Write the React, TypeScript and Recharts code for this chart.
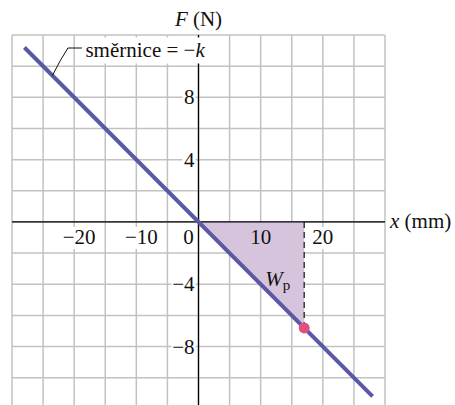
import React from 'react';
import {
  ComposedChart,
  Line,
  Area,
  XAxis,
  YAxis,
  CartesianGrid,
  ReferenceLine,
  ReferenceDot,
} from 'recharts';

// grid ticks (mm, N)
const xGrid = [-30, -25, -20, -15, -10, -5, 0, 5, 10, 15, 20, 25, 30];
const yGrid = [-10, -8, -6, -4, -2, 0, 2, 4, 6, 8, 10, 12];

// tick labels written along the axes
const xLabels = [-20, -10, 0, 10, 20];
const yLabels = [8, 4, -4, -8];

// spring force line F = -kx
const springX = [-28, 28];
const springF = [11.2, -11.2];

// shaded work triangle
const workX = [0, 17];
const workF = [0, -6.8];

// end point of the stretch
const pointX = 17;
const pointF = -6.8;

const springData = springX.map((x, i) => ({ x, F: springF[i] }));
const workData = workX.map((x, i) => ({ x, F: workF[i] }));

const SERIF = '"Liberation Serif", "Times New Roman", Times, serif';
const FS = 21;
const LINE = '#5b58a6';
const FILL = '#d6c4dc';
const DOT = '#e0507f';

const fmt = (v: number) => (v < 0 ? `\u2212${-v}` : `${v}`);

const XTick = ({ cx, cy, value }: any) => {
  const label = fmt(value);
  const dx = value < 0 ? 5 : value === 0 ? -10 : 0;
  const w = label.length * 11 + 4;
  return (
    <g>
      {value !== 10 && (
        <rect x={cx + dx - w / 2} y={cy + 5} width={w} height={22} fill="#fff" />
      )}
      <text x={cx + dx} y={cy + 22} textAnchor="middle" fontFamily={SERIF} fontSize={FS} fill="#111">
        {label}
      </text>
    </g>
  );
};

const YTick = ({ cx, cy, value }: any) => {
  const label = fmt(value);
  const w = label.length * 11 + 2;
  return (
    <g>
      <rect x={cx - 3 - w} y={cy - 10} width={w} height={20} fill="#fff" />
      <text x={cx - 4} y={cy + 7} textAnchor="end" fontFamily={SERIF} fontSize={FS} fill="#111">
        {label}
      </text>
    </g>
  );
};

const SlopeNote = ({ cx, cy }: any) => (
  <g>
    <path
      d={`M${cx},${cy} Q${cx + 8},${cy - 16} ${cx + 15.5},${cy - 27.5} L${cx + 29.5},${cy - 27.5}`}
      fill="none"
      stroke="#111"
      strokeWidth={1}
    />
    <rect x={cx + 30} y={cy - 38} width={133} height={26} fill="#fff" />
    <text x={cx + 33} y={cy - 19} fontFamily={SERIF} fontSize={FS} fill="#111">
      směrnice = {'\u2212'}
      <tspan fontStyle="italic">k</tspan>
    </text>
  </g>
);

const WorkLabel = ({ cx, cy }: any) => (
  <text x={cx - 11} y={cy + 6} fontFamily={SERIF} fontSize={FS} fill="#111">
    <tspan fontStyle="italic">W</tspan>
    <tspan fontSize={15} dy={4}>p</tspan>
  </text>
);

const YTitle = ({ cx, cy }: any) => (
  <text x={cx} y={cy - 9} textAnchor="middle" fontFamily={SERIF} fontSize={FS} fill="#111">
    <tspan fontStyle="italic">F</tspan> (N)
  </text>
);

const XTitle = ({ cx, cy }: any) => (
  <text x={cx + 5} y={cy + 6} fontFamily={SERIF} fontSize={FS} fill="#111">
    <tspan fontStyle="italic">x</tspan> (mm)
  </text>
);

export default function App() {
  return (
    <div style={{ position: 'absolute', left: 0, top: 0, width: 455, height: 405, background: '#fff' }}>
      <ComposedChart width={455} height={405} margin={{ top: 35, right: 70, bottom: 0, left: 12 }}>
        <XAxis type="number" dataKey="x" domain={[-30, 30]} ticks={xGrid} allowDataOverflow hide />
        <YAxis type="number" domain={[-11.75, 12]} ticks={yGrid} allowDataOverflow hide />
        <CartesianGrid stroke="#c2c2c2" strokeWidth={1.5} verticalValues={xGrid} horizontalValues={yGrid} />
        <Area
          data={workData}
          dataKey="F"
          type="linear"
          baseValue={0}
          fill={FILL}
          fillOpacity={1}
          stroke="none"
          isAnimationActive={false}
        />
        {xLabels.map((v) => (
          <ReferenceDot key={`x${v}`} x={v} y={0} r={0} ifOverflow="visible" shape={(p: any) => <XTick {...p} value={v} />} />
        ))}
        {yLabels.map((v) => (
          <ReferenceDot key={`y${v}`} x={0} y={v} r={0} ifOverflow="visible" shape={(p: any) => <YTick {...p} value={v} />} />
        ))}
        <ReferenceLine y={0} stroke="#000" strokeWidth={1.3} />
        <ReferenceLine x={0} stroke="#000" strokeWidth={1.3} />
        <ReferenceLine
          segment={[{ x: pointX, y: 0 }, { x: pointX, y: pointF }]}
          stroke="#111"
          strokeWidth={1.2}
          strokeDasharray="6 4"
        />
        <Line
          data={springData}
          dataKey="F"
          type="linear"
          stroke={LINE}
          strokeWidth={4}
          dot={false}
          activeDot={false}
          isAnimationActive={false}
        />
        <ReferenceDot x={pointX} y={pointF} r={5.5} fill={DOT} stroke="none" ifOverflow="visible" />
        <ReferenceDot x={12.5} y={-3.7} r={0} ifOverflow="visible" shape={(p: any) => <WorkLabel {...p} />} />
        <ReferenceDot x={-23.5} y={9.4} r={0} ifOverflow="visible" shape={(p: any) => <SlopeNote {...p} />} />
        <ReferenceDot x={0} y={12} r={0} ifOverflow="visible" shape={(p: any) => <YTitle {...p} />} />
        <ReferenceDot x={30} y={0} r={0} ifOverflow="visible" shape={(p: any) => <XTitle {...p} />} />
      </ComposedChart>
    </div>
  );
}
